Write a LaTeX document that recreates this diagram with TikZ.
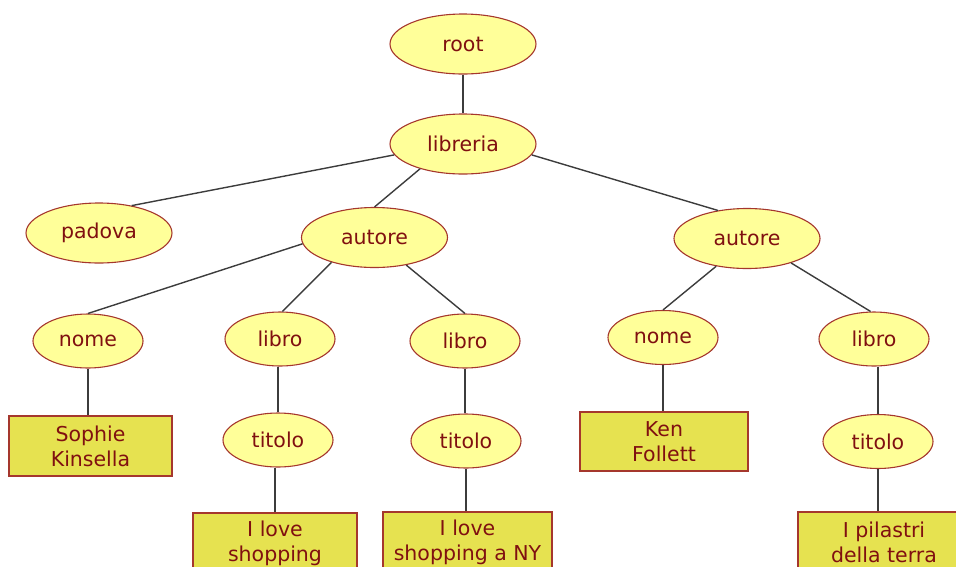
\documentclass[tikz,border=0pt]{standalone}
\usepackage{fontspec}
\setmainfont{DejaVu Sans}
\usetikzlibrary{shapes.geometric}
\definecolor{txtred}{RGB}{128,16,16}
\definecolor{edgered}{RGB}{165,55,45}
\definecolor{ovalfill}{RGB}{255,255,153}
\definecolor{boxfill}{RGB}{230,226,80}
\definecolor{linkgray}{RGB}{60,60,60}
\begin{document}
\begin{tikzpicture}[x=1pt,y=-1pt,
  every node/.style={font=\fontsize{20.5}{25}\selectfont, text=txtred, inner sep=0pt},
  bigoval/.style={ellipse, draw=edgered, line width=1.1pt, fill=ovalfill,
                  minimum width=146pt, minimum height=60pt},
  smalloval/.style={ellipse, draw=edgered, line width=1.1pt, fill=ovalfill,
                  minimum width=110pt, minimum height=54pt},
  leafbox/.style={rectangle, draw=edgered, line width=1.1pt, fill=boxfill,
                  align=center, minimum height=60pt},
  link/.style={draw=linkgray, line width=1.4pt}]
\useasboundingbox (0,0) rectangle (956,566);
\clip (0,0) rectangle (956,566);

% ovals
\node[bigoval] (root) at (463,44) {root};
\node[bigoval] (libreria) at (463,144) {libreria};
\node[bigoval] (padova) at (99,233) {padova};
\node[bigoval] (autoreA) at (374.5,237.5) {autore};
\node[bigoval] (autoreB) at (747,238.5) {autore};
\node[smalloval] (nomeA) at (88,341) {nome};
\node[smalloval] (libroA) at (280,339) {libro};
\node[smalloval] (libroB) at (465,341) {libro};
\node[smalloval] (nomeB) at (663,337.5) {nome};
\node[smalloval] (libroC) at (874,339) {libro};
\node[smalloval] (titoloA) at (278,440) {titolo};
\node[smalloval] (titoloB) at (466,441) {titolo};
\node[smalloval] (titoloC) at (878,441.5) {titolo};

% text leaves
\node[leafbox, minimum width=163pt] (sophie) at (90.5,446) {Sophie\\Kinsella};
\node[leafbox, minimum width=168pt, minimum height=59pt] (ken) at (664,441.5) {Ken\\Follett};
\node[leafbox, minimum width=164pt] (shopA) at (275,543) {I love\\shopping};
\node[leafbox, minimum width=169pt] (shopB) at (467.5,542) {I love\\shopping a NY};
\node[leafbox, minimum width=172pt] (pilastri) at (884,542) {I pilastri\\della terra};

% connectors
\path[link] (root.south) -- (libreria.north);
\path[link] (libreria.189) -- (padova.40);
\path[link] (libreria.210) -- (autoreA.north);
\path[link] (libreria.351) -- (autoreB.136);
\path[link] (autoreA.185) -- (nomeA.north);
\path[link] (autoreA.210) -- (libroA.85);
\path[link] (autoreA.319) -- (libroB.north);
\path[link] (autoreB.222) -- (nomeB.north);
\path[link] (autoreB.331) -- (libroC.97);
\path[link] (nomeA.south) -- (nomeA.south |- sophie.north);
\path[link] (titoloA.north |- libroA.south) -- (titoloA.north);
\path[link] (shopA.north |- titoloA.south) -- (shopA.north);
\path[link] (libroB.south) -- (libroB.south |- titoloB.north);
\path[link] (titoloB.south) -- (titoloB.south |- shopB.north);
\path[link] (nomeB.south) -- (nomeB.south |- ken.north);
\path[link] (libroC.south -| titoloC.north) -- (titoloC.north);
\path[link] (titoloC.south) -- (titoloC.south |- pilastri.north);
\end{tikzpicture}
\end{document}
